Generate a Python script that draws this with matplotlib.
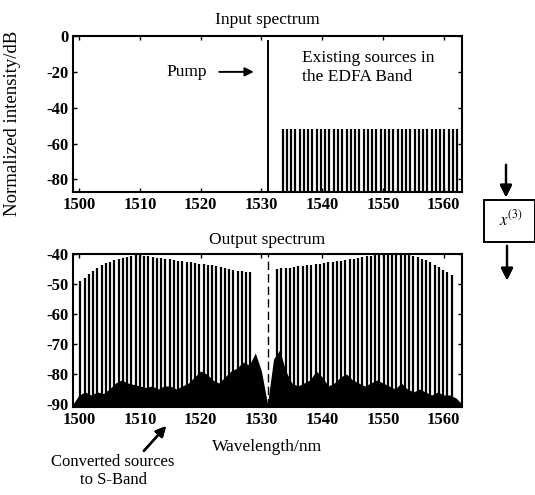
import matplotlib
matplotlib.use('Agg')
import matplotlib.pyplot as plt
from matplotlib.patches import Rectangle

plt.rcParams['font.family'] = 'Liberation Serif'
plt.rcParams['mathtext.fontset'] = 'stix'
plt.rcParams['axes.unicode_minus'] = False

# Input spectrum: pump and existing EDFA-band channels
pump_wl = 1531.0
input_wl = [1533.5, 1534.2, 1534.9, 1535.6, 1536.3, 1537.0, 1537.7, 1538.4, 1539.1, 1539.8,
            1540.5, 1541.2, 1541.9, 1542.6, 1543.3, 1544.0, 1544.7, 1545.4, 1546.1, 1546.8,
            1547.5, 1548.2, 1548.9, 1549.6, 1550.3, 1551.0, 1551.7, 1552.4, 1553.1, 1553.8,
            1554.5, 1555.2, 1555.9, 1556.6, 1557.3, 1558.0, 1558.7, 1559.4, 1560.1, 1560.8,
            1561.5, 1562.1]
input_level = -52

# Output spectrum: converted channels (S-band side) and original side
out_left_wl = [1500.2, 1500.9, 1501.6, 1502.3, 1503.0, 1503.7, 1504.4, 1505.1, 1505.8, 1506.5,
               1507.2, 1507.9, 1508.6, 1509.3, 1510.0, 1510.7, 1511.4, 1512.1, 1512.8, 1513.5,
               1514.2, 1514.9, 1515.6, 1516.3, 1517.0, 1517.7, 1518.4, 1519.1, 1519.8, 1520.5,
               1521.2, 1521.9, 1522.6, 1523.3, 1524.0, 1524.7, 1525.4, 1526.1, 1526.8, 1527.5,
               1528.2]
out_left_db = [-49.0, -48.0, -46.5, -45.5, -44.5, -43.5, -43.0, -42.5, -42.0, -41.7,
               -41.3, -41.0, -40.6, -40.3, -40.2, -40.5, -40.8, -41.0, -41.2, -41.4,
               -41.6, -41.8, -42.0, -42.2, -42.4, -42.6, -42.8, -43.0, -43.2, -43.4,
               -43.6, -43.8, -44.0, -44.3, -44.6, -44.9, -45.2, -45.5, -45.7, -45.9,
               -46.1]
out_right_wl = [1532.6, 1533.3, 1534.0, 1534.7, 1535.4, 1536.1, 1536.8, 1537.5, 1538.2, 1538.9,
                1539.6, 1540.3, 1541.0, 1541.7, 1542.4, 1543.1, 1543.8, 1544.5, 1545.2, 1545.9,
                1546.6, 1547.3, 1548.0, 1548.7, 1549.4, 1550.1, 1550.8, 1551.5, 1552.2, 1552.9,
                1553.6, 1554.3, 1555.0, 1555.7, 1556.4, 1557.1, 1557.8, 1558.5, 1559.2, 1559.9,
                1560.6, 1561.3]
out_right_db = [-45.0, -44.8, -44.6, -44.5, -44.3, -44.1, -44.0, -43.8, -43.6, -43.4,
                -43.2, -43.0, -42.8, -42.6, -42.4, -42.2, -42.0, -41.8, -41.5, -41.3,
                -41.0, -40.8, -40.6, -40.4, -40.2, -40.1, -40.0, -40.0, -40.0, -40.0,
                -40.0, -40.2, -40.5, -41.0, -41.5, -42.0, -42.7, -43.5, -44.3, -45.2,
                -46.0, -47.0]

# noise floor envelope of the output spectrum (1 nm steps)
noise_wl = [1499, 1500, 1501, 1502, 1503, 1504, 1505, 1506, 1507, 1508, 1509, 1510, 1511,
            1512, 1513, 1514, 1515, 1516, 1517, 1518, 1519, 1520, 1521, 1522, 1523, 1524,
            1525, 1526, 1527, 1528, 1529, 1530, 1531, 1532, 1533, 1534, 1535, 1536, 1537,
            1538, 1539, 1540, 1541, 1542, 1543, 1544, 1545, 1546, 1547, 1548, 1549, 1550,
            1551, 1552, 1553, 1554, 1555, 1556, 1557, 1558, 1559, 1560, 1561, 1562, 1563]
noise_db = [-90, -87, -86, -87, -86, -86.5, -85, -83, -82, -83, -83.5, -84, -84.5,
            -84, -85, -84, -84, -85, -84, -83, -81, -79, -80, -82, -83, -81,
            -79, -78, -76, -77, -73, -79, -90, -75, -72, -79, -83, -84, -83,
            -82, -79, -81, -84, -83, -81, -80, -82, -83, -84, -83, -82, -83,
            -84, -85, -83, -85, -86, -85, -86, -87, -86, -87, -87, -88, -90]

xticks = [1500, 1510, 1520, 1530, 1540, 1550, 1560]

W, H = 535, 495
fig = plt.figure(figsize=(W / 100, H / 100), dpi=100)


def fbox(l, t, r, b):
    return [l / W, 1 - b / H, (r - l) / W, (b - t) / H]


def fpt(x, y):
    return (x / W, 1 - y / H)


ax1 = fig.add_axes(fbox(73, 36, 462, 192))
ax2 = fig.add_axes(fbox(73, 254, 462, 407))

# top panel
ax1.vlines(input_wl, -90, input_level, color='black', lw=1.6)
ax1.vlines([pump_wl], -90, -2, color='black', lw=1.4)
ax1.set_xlim(1499, 1563)
ax1.set_ylim(-87, 0)
ax1.set_yticks([0, -20, -40, -60, -80])
ax1.set_xticks(xticks)
ax1.set_title('Input spectrum', fontsize=12.5, pad=9)
ax1.annotate('', xy=(1529.2, -20), xytext=(1522.6, -20),
             arrowprops=dict(arrowstyle='-|>', color='black', lw=1.4, mutation_scale=13))
ax1.text(1514.3, -20, 'Pump', fontsize=12.5, va='center', ha='left')
ax1.text(1536.7, -17.5, 'Existing sources in\nthe EDFA Band', fontsize=12.5,
         va='center', ha='left', linespacing=1.25)

# bottom panel
ax2.fill_between(noise_wl, -91, noise_db, color='black', lw=0)
ax2.vlines(out_left_wl, -91, out_left_db, color='black', lw=1.6)
ax2.vlines(out_right_wl, -91, out_right_db, color='black', lw=1.6)
ax2.vlines([pump_wl], -91, -40, color='black', lw=1.0, linestyles=(0, (6, 3)))
ax2.set_xlim(1499, 1563)
ax2.set_ylim(-91, -40)
ax2.set_yticks([-40, -50, -60, -70, -80, -90])
ax2.set_xticks(xticks)
ax2.set_xlabel('Wavelength/nm', fontsize=12.5, labelpad=8)
ax2.set_title('Output spectrum', fontsize=12.5, pad=7)

for ax in (ax1, ax2):
    ax.tick_params(direction='in', top=True, right=True, length=3, labelsize=12, width=1)
    for lab in ax.get_xticklabels() + ax.get_yticklabels():
        lab.set_fontweight('bold')
    for s in ax.spines.values():
        s.set_linewidth(1.5)

fig.text(*fpt(13, 123), 'Normalized intensity/dB', rotation=90, fontsize=13.5,
         ha='center', va='center')

# converted sources annotation
fig.text(*fpt(113, 471), 'Converted sources\nto S-Band', fontsize=12,
         ha='center', va='center', linespacing=1.2)
fig.add_artist(plt.annotate('', xy=fpt(168, 424), xytext=fpt(142, 453),
                            xycoords='figure fraction', textcoords='figure fraction',
                            arrowprops=dict(arrowstyle='-|>', color='black', lw=1.7,
                                            mutation_scale=15)))

# chi(3) box with arrows
box = Rectangle(fpt(484, 242), (W - 484) / W, 42 / H, transform=fig.transFigure,
                fill=False, lw=1.4, clip_on=False)
fig.add_artist(box)
fig.text(*fpt(511, 219), r'$x^{(3)}$', fontsize=12, ha='center', va='center')
fig.add_artist(plt.annotate('', xy=fpt(506, 200), xytext=fpt(506, 162),
                            xycoords='figure fraction', textcoords='figure fraction',
                            arrowprops=dict(arrowstyle='-|>', color='black', lw=1.6,
                                            mutation_scale=18)))
fig.add_artist(plt.annotate('', xy=fpt(507, 283), xytext=fpt(507, 243),
                            xycoords='figure fraction', textcoords='figure fraction',
                            arrowprops=dict(arrowstyle='-|>', color='black', lw=1.6,
                                            mutation_scale=18)))

fig.savefig('out.png', dpi=100)
